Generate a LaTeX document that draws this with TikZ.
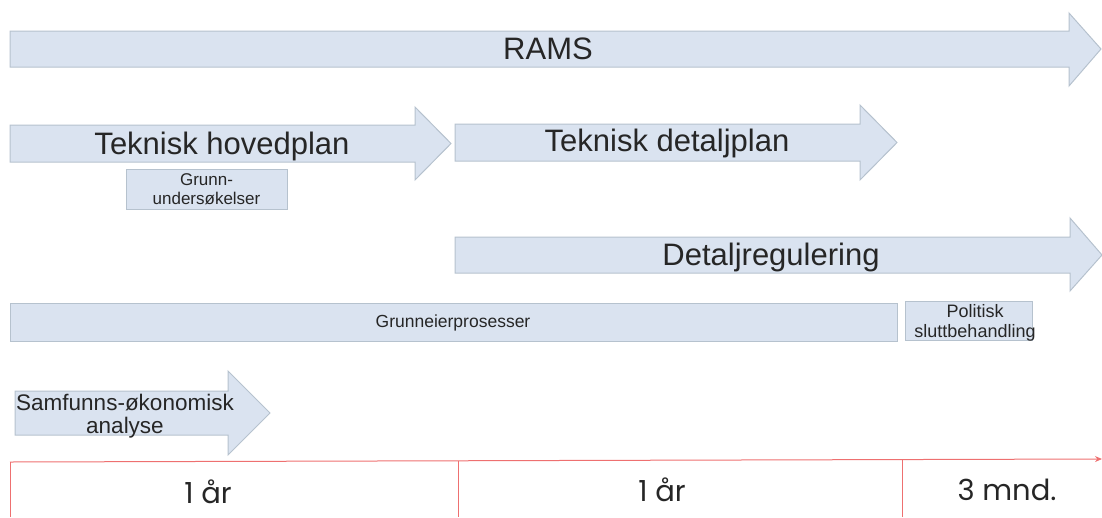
\documentclass[tikz,border=0pt]{standalone}
\usepackage{fontspec}
\setmainfont{Liberation Sans}
\newfontfamily\popfont{Poppins}
\usetikzlibrary{arrows.meta}
\definecolor{boxfill}{HTML}{DAE3F0}
\definecolor{boxline}{HTML}{B6C2CE}
\definecolor{txt}{HTML}{262626}
\definecolor{tline}{HTML}{EE7070}
\tikzset{
  shapebox/.style={fill=boxfill,draw=boxline,line width=1pt},
  big/.style={text=txt,font=\fontsize{31}{34}\selectfont,inner sep=0pt},
  small/.style={text=txt,font=\fontsize{17}{19}\selectfont,align=center,inner sep=0pt},
  mid/.style={text=txt,font=\fontsize{22.5}{23}\selectfont,align=center,inner sep=0pt},
  tl/.style={draw=tline,line width=1pt},
  tlabel/.style={text=txt,font=\popfont\fontsize{29}{32}\selectfont,inner sep=0pt}
}
\begin{document}
\begin{tikzpicture}[x=1pt,y=-1pt]
\useasboundingbox (0,0) rectangle (1102,517);
% RAMS
\draw[shapebox] (10,31) -- (1069,31) -- (1069,13) -- (1101,49) -- (1069,86) -- (1069,67) -- (10,67) -- cycle;
\node[big] (rams) at (548,49) {RAMS};
% Teknisk hovedplan
\draw[shapebox] (10,125) -- (415,125) -- (415,107) -- (451,143.5) -- (415,180) -- (415,162) -- (10,162) -- cycle;
\node[big] (thp) at (222,146) {Teknisk hovedplan};
% Teknisk detaljplan
\draw[shapebox] (455,124) -- (860,124) -- (860,105) -- (897,142.5) -- (860,180) -- (860,161) -- (455,161) -- cycle;
\node[big] (tdp) at (667,143.5) {Teknisk detaljplan};
% Grunnundersøkelser
\draw[shapebox] (126,169) rectangle (287,209);
\node[small] (gu) at (206.5,189) {Grunn-\\undersøkelser};
% Detaljregulering
\draw[shapebox] (455,237) -- (1070,237) -- (1070,218) -- (1102,255) -- (1070,291) -- (1070,273) -- (455,273) -- cycle;
\node[big] (dr) at (771,257) {Detaljregulering};
% Grunneierprosesser
\draw[shapebox] (10,303) rectangle (897,341);
\node[small,font=\fontsize{17.5}{19}\selectfont] (gp) at (453,323) {Grunneierprosesser};
% Politisk sluttbehandling
\draw[shapebox] (905,301) rectangle (1032,340);
\node[small,font=\fontsize{18}{20}\selectfont] (ps) at (975,322.5) {Politisk\\sluttbehandling};
% Samfunnsøkonomisk analyse
\draw[shapebox] (15,391) -- (228,391) -- (228,371) -- (270,413) -- (228,455) -- (228,435) -- (15,435) -- cycle;
\node[mid] (sa) at (125,416) {Samfunns-økonomisk\\analyse};
% Timeline
\coordinate (t0) at (10,462);
\coordinate (t1) at (458,461);
\coordinate (t2) at (902,459.5);
\coordinate (tend) at (1102,459);
\draw[tl,-{Stealth[length=7pt,width=6pt]}] (t0) -- (tend);
\draw[tl] (t0) -- (10,517);
\draw[tl] (t1) -- (458,517);
\draw[tl] (t2) -- (902,517);
\node[tlabel] (l1) at (208,492) {1 år};
\node[tlabel] (l2) at (662,490) {1 år};
\node[tlabel] (l3) at (1007,490) {3 mnd.};
\end{tikzpicture}
\end{document}
